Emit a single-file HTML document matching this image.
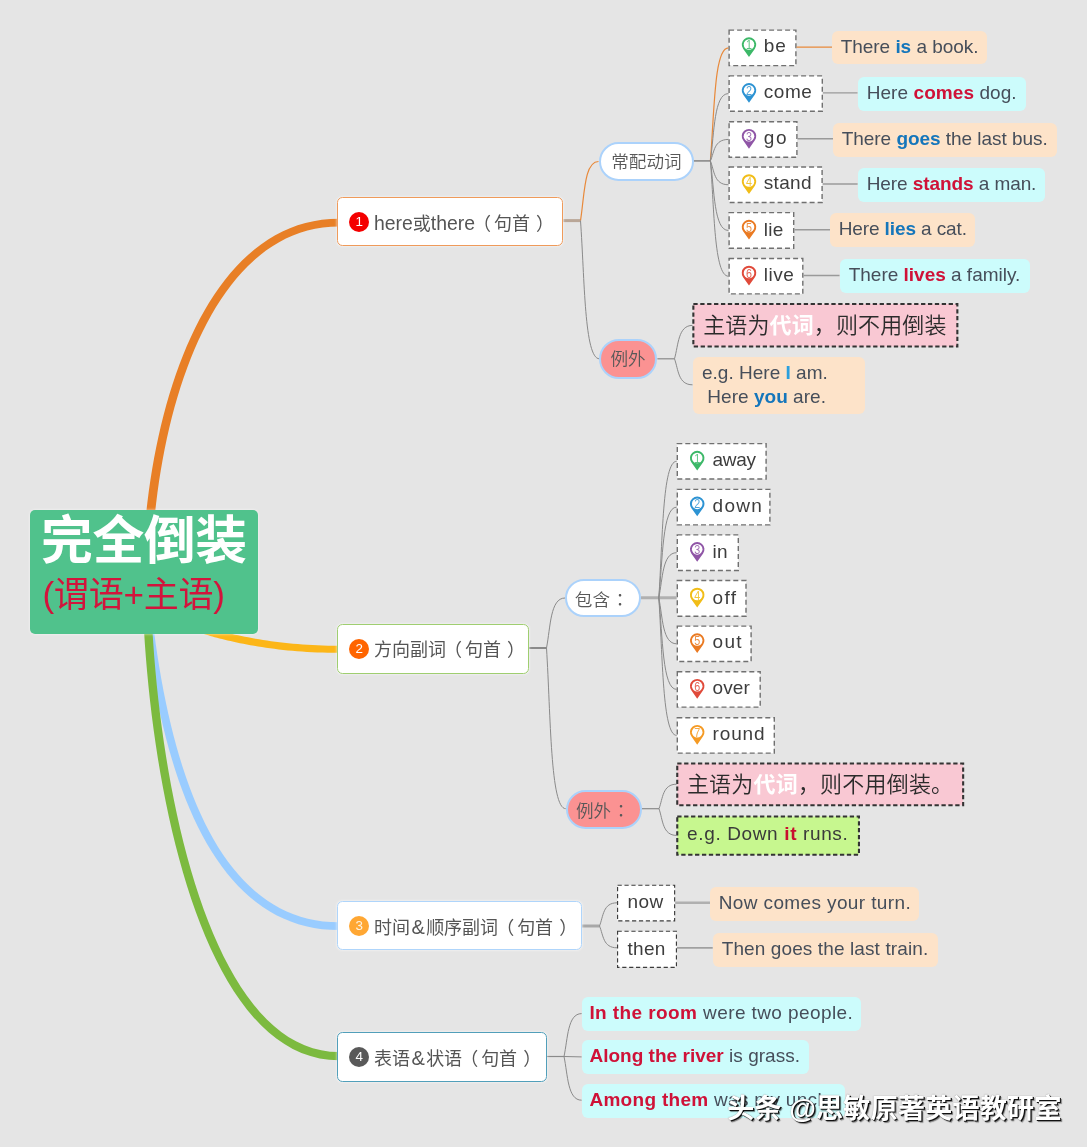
<!DOCTYPE html>
<html lang="zh"><head><meta charset="utf-8"><title>完全倒装</title>
<style>
html,body{margin:0;padding:0}
body{width:1087px;height:1147px;position:relative;overflow:hidden;background:#e5e5e5;font-family:"Liberation Sans","Noto Sans CJK SC",sans-serif;color:#454545}
svg{position:absolute;left:0;top:0}
div{box-sizing:border-box}
body>div{position:absolute;white-space:nowrap;will-change:transform}
.c{background:#50c28c;border-radius:5px;box-shadow:0 0 3px rgba(255,255,255,.7);line-height:normal!important}
.c1{position:absolute;left:11px;top:-5.8px;font-size:51.8px;font-weight:700;color:#fff;line-height:74px;letter-spacing:-0.4px}
.c2{position:absolute;left:12.4px;top:61.2px;font-size:35px;color:#d2143c;line-height:48px;letter-spacing:-0.2px}
.t{background:#fff;border:1.7px solid;border-radius:5.5px;box-shadow:0 0 3px rgba(255,255,255,.8);font-size:18px;color:#555;font-weight:400}
.t i{position:absolute;left:11.3px;top:13.7px;width:20px;height:20px;border-radius:50%;font-style:normal;font-size:13.4px;line-height:20.4px;text-align:center;font-weight:400}
.t .tt{position:absolute;left:36px;top:0.5px}
.t em{font-style:normal;display:inline-block;width:18px;margin:0 3px 0 -2px}
.t em+em{margin:0 0 0 6px}
.t u{text-decoration:none;font-size:19.4px;font-weight:400}
.t u.a{margin:0 1.2px 0 1.6px;font-size:20px}
.p{border:2px solid #abd2fb;border-radius:20px;text-align:center;font-size:17.6px;font-weight:350;color:#585858}
.p{line-height:normal!important}
.p span{position:absolute;left:0;right:0;top:4.6px;line-height:26px}
.p s{text-decoration:none;font-family:"Noto Sans CJK JP",sans-serif;margin-left:1.2px}
.w{font-size:19px;color:#3d3d3d}
.s{border-radius:6px;font-size:19px;padding-left:8.7px;color:#464e5a}
.s span{position:relative;top:-1.4px}
.b{color:#1576bb}.r{color:#cf1238}
.k{font-size:22px;color:#2b2b2b;font-weight:350}
.k b{color:#fff;font-weight:700}
.e{border-radius:6px;font-size:19px;padding:3.6px 0 0 9px;line-height:24.5px!important;color:#464e5a}
.g{font-size:19px;color:#3a3a3a}
.pn{font-family:"Liberation Sans",sans-serif}
.wm{left:726.8px;top:1090px;font-size:27.3px;font-weight:700;color:#fff;line-height:38px;text-shadow:1.2px 1.2px 0 #111,2px 2px 1px rgba(0,0,0,.45),0 0 1px rgba(0,0,0,.5)}
</style></head>
<body>
<svg width="1087" height="1147" viewBox="0 0 1087 1147">
<path d="M154.88 514.45 L156.09 503.46 L157.46 492.49 L159 481.56 L160.71 470.69 L162.58 459.88 L164.62 449.16 L166.84 438.53 L169.22 428.01 L171.77 417.61 L174.5 407.34 L177.4 397.22 L180.47 387.26 L183.71 377.48 L187.13 367.88 L190.73 358.49 L194.5 349.31 L198.45 340.35 L202.58 331.64 L206.88 323.18 L211.36 314.99 L216.02 307.08 L220.86 299.46 L225.87 292.15 L231.06 285.16 L236.44 278.5 L241.99 272.18 L247.72 266.22 L253.63 260.63 L259.72 255.42 L265.98 250.61 L272.43 246.19 L279.07 242.19 L285.88 238.61 L292.88 235.47 L300.08 232.78 L307.46 230.55 L315.04 228.79 L322.82 227.51 L330.81 226.72 L339 226.45 L339 218.75 L330.31 219.01 L321.83 219.82 L313.54 221.15 L305.46 223 L297.58 225.35 L289.91 228.19 L282.44 231.51 L275.19 235.28 L268.14 239.5 L261.31 244.14 L254.68 249.2 L248.26 254.66 L242.05 260.5 L236.04 266.7 L230.24 273.27 L224.63 280.17 L219.23 287.4 L214.02 294.94 L209.01 302.78 L204.19 310.91 L199.56 319.31 L195.13 327.97 L190.88 336.88 L186.81 346.02 L182.94 355.38 L179.24 364.96 L175.73 374.72 L172.4 384.67 L169.25 394.79 L166.28 405.06 L163.49 415.48 L160.87 426.03 L158.43 436.69 L156.16 447.46 L154.06 458.32 L152.13 469.26 L150.38 480.27 L148.79 491.32 L147.37 502.42 L146.12 513.55Z" fill="#e87f26"/>
<path d="M198.92 632.59 L200.18 632.96 L201.56 633.38 L203.07 633.83 L204.7 634.31 L206.45 634.82 L208.33 635.37 L210.32 635.94 L212.44 636.53 L214.67 637.14 L217.02 637.77 L219.49 638.42 L222.07 639.08 L224.77 639.75 L227.58 640.43 L230.51 641.11 L233.55 641.8 L236.71 642.49 L239.97 643.18 L243.35 643.86 L246.84 644.54 L250.44 645.2 L254.15 645.86 L257.97 646.5 L261.89 647.12 L265.93 647.73 L270.07 648.31 L274.32 648.87 L278.67 649.41 L283.14 649.91 L287.7 650.39 L292.37 650.82 L297.14 651.23 L302.02 651.59 L307 651.92 L312.08 652.19 L317.27 652.43 L322.55 652.61 L327.93 652.75 L333.42 652.83 L339 652.85 L339 645.75 L333.49 645.72 L328.08 645.63 L322.77 645.49 L317.56 645.29 L312.45 645.05 L307.44 644.77 L302.53 644.44 L297.72 644.07 L293.02 643.66 L288.42 643.22 L283.92 642.74 L279.53 642.24 L275.24 641.7 L271.06 641.14 L266.98 640.56 L263.01 639.95 L259.15 639.33 L255.39 638.68 L251.75 638.03 L248.21 637.36 L244.78 636.69 L241.46 636.01 L238.25 635.32 L235.16 634.64 L232.17 633.95 L229.3 633.27 L226.54 632.59 L223.89 631.93 L221.35 631.27 L218.93 630.62 L216.63 629.99 L214.44 629.38 L212.36 628.79 L210.4 628.22 L208.56 627.68 L206.83 627.16 L205.22 626.67 L203.72 626.22 L202.34 625.79 L201.08 625.41Z" fill="#fcb618"/>
<path d="M145.83 630.51 L147.54 643.19 L149.37 655.71 L151.33 668.05 L153.43 680.21 L155.66 692.18 L158.02 703.95 L160.52 715.51 L163.17 726.87 L165.96 738 L168.9 748.9 L171.98 759.57 L175.22 769.99 L178.61 780.16 L182.16 790.07 L185.87 799.72 L189.75 809.09 L193.79 818.18 L197.99 826.98 L202.37 835.48 L206.93 843.67 L211.66 851.56 L216.58 859.12 L221.67 866.35 L226.96 873.24 L232.44 879.79 L238.11 885.98 L243.98 891.81 L250.04 897.26 L256.32 902.33 L262.79 907.01 L269.47 911.29 L276.36 915.15 L283.46 918.59 L290.77 921.6 L298.28 924.17 L306.01 926.29 L313.95 927.95 L322.09 929.14 L330.44 929.86 L339 930.1 L339 922.3 L330.89 922.07 L322.99 921.38 L315.31 920.25 L307.85 918.69 L300.59 916.69 L293.53 914.27 L286.67 911.44 L279.99 908.2 L273.51 904.56 L267.21 900.52 L261.09 896.1 L255.15 891.29 L249.38 886.1 L243.79 880.53 L238.37 874.61 L233.11 868.32 L228.03 861.68 L223.11 854.7 L218.36 847.38 L213.77 839.73 L209.35 831.75 L205.08 823.46 L200.98 814.87 L197.03 805.97 L193.24 796.78 L189.6 787.31 L186.11 777.57 L182.78 767.56 L179.59 757.29 L176.55 746.76 L173.66 736 L170.91 725 L168.3 713.77 L165.82 702.32 L163.49 690.66 L161.28 678.8 L159.21 666.75 L157.27 654.51 L155.46 642.08 L153.77 629.49Z" fill="#99ccff"/>
<path d="M144.01 630.24 L144.87 643.91 L145.9 657.79 L147.1 671.86 L148.46 686.1 L150 700.46 L151.71 714.93 L153.6 729.47 L155.67 744.06 L157.93 758.66 L160.37 773.25 L163.01 787.79 L165.83 802.27 L168.86 816.64 L172.08 830.89 L175.51 844.97 L179.15 858.87 L182.99 872.55 L187.05 885.99 L191.33 899.15 L195.82 912.01 L200.54 924.54 L205.49 936.71 L210.67 948.49 L216.09 959.86 L221.75 970.78 L227.65 981.22 L233.8 991.16 L240.21 1000.56 L246.88 1009.41 L253.82 1017.66 L261.04 1025.29 L268.53 1032.26 L276.31 1038.55 L284.39 1044.11 L292.76 1048.92 L301.43 1052.93 L310.39 1056.11 L319.64 1058.42 L329.18 1059.83 L339 1060.3 L339 1052.1 L329.98 1051.66 L321.24 1050.37 L312.77 1048.25 L304.54 1045.32 L296.54 1041.62 L288.78 1037.16 L281.25 1031.96 L273.94 1026.05 L266.85 1019.44 L259.98 1012.18 L253.34 1004.27 L246.93 995.76 L240.74 986.66 L234.77 977.01 L229.03 966.84 L223.5 956.18 L218.21 945.05 L213.13 933.49 L208.27 921.52 L203.63 909.19 L199.2 896.5 L194.98 883.51 L190.98 870.23 L187.18 856.69 L183.59 842.94 L180.19 828.98 L177 814.86 L174.01 800.61 L171.21 786.25 L168.6 771.82 L166.18 757.33 L163.94 742.83 L161.89 728.35 L160.02 713.9 L158.32 699.53 L156.8 685.25 L155.45 671.11 L154.27 657.13 L153.25 643.33 L152.39 629.76Z" fill="#7cba3f"/>
<rect x="729.1" y="30.1" width="66.8" height="35.5" fill="#fff" stroke="#707070" stroke-width="1.4" stroke-dasharray="5 3"/>
<rect x="729.1" y="75.9" width="93.2" height="35.4" fill="#fff" stroke="#707070" stroke-width="1.4" stroke-dasharray="5 3"/>
<rect x="729.1" y="121.7" width="67.8" height="35.5" fill="#fff" stroke="#707070" stroke-width="1.4" stroke-dasharray="5 3"/>
<rect x="729.1" y="167" width="93" height="35.5" fill="#fff" stroke="#707070" stroke-width="1.4" stroke-dasharray="5 3"/>
<rect x="729.1" y="212.6" width="64.6" height="35.7" fill="#fff" stroke="#707070" stroke-width="1.4" stroke-dasharray="5 3"/>
<rect x="729.1" y="258.5" width="73.7" height="35.4" fill="#fff" stroke="#707070" stroke-width="1.4" stroke-dasharray="5 3"/>
<rect x="677.3" y="443.6" width="88.8" height="35.4" fill="#fff" stroke="#707070" stroke-width="1.4" stroke-dasharray="5 3"/>
<rect x="677.3" y="489.4" width="92.6" height="35.5" fill="#fff" stroke="#707070" stroke-width="1.4" stroke-dasharray="5 3"/>
<rect x="677.3" y="534.9" width="61" height="35.6" fill="#fff" stroke="#707070" stroke-width="1.4" stroke-dasharray="5 3"/>
<rect x="677.3" y="580.5" width="68.7" height="35.7" fill="#fff" stroke="#707070" stroke-width="1.4" stroke-dasharray="5 3"/>
<rect x="677.3" y="626.1" width="73.8" height="35.4" fill="#fff" stroke="#707070" stroke-width="1.4" stroke-dasharray="5 3"/>
<rect x="677.3" y="671.7" width="82.9" height="35.4" fill="#fff" stroke="#707070" stroke-width="1.4" stroke-dasharray="5 3"/>
<rect x="677.3" y="717.7" width="97" height="35.4" fill="#fff" stroke="#707070" stroke-width="1.4" stroke-dasharray="5 3"/>
<rect x="617.58" y="885.28" width="57.05" height="35.65" fill="#fff" stroke="#3c3c3c" stroke-width="1.15" stroke-dasharray="4.2 2.7"/>
<rect x="617.58" y="931.28" width="58.85" height="36.05" fill="#fff" stroke="#3c3c3c" stroke-width="1.15" stroke-dasharray="4.2 2.7"/>
<rect x="693.35" y="304.05" width="264" height="42.5" fill="#f9c8d3" stroke="#333" stroke-width="2.1" stroke-dasharray="4.3 2.6"/>
<rect x="677.25" y="763.55" width="285.9" height="41.7" fill="#f9c8d3" stroke="#333" stroke-width="2.1" stroke-dasharray="4.3 2.6"/>
<rect x="677.25" y="816.55" width="181.7" height="38.2" fill="#c7f78f" stroke="#333" stroke-width="2.1" stroke-dasharray="4.3 2.6"/>
<path d="M563.4 220.6 L580.5 220.6" stroke="#b9a697" stroke-width="3" fill="none"/>
<path d="M580.5 220.6 C584.46 195.78 584.1 161.5 598.5 161.5" stroke="#e8893a" stroke-width="1.2" fill="none"/>
<path d="M580.5 220.6 C584.66 278.64 584.28 358.8 599.4 358.8" stroke="#8a8a8a" stroke-width="1" fill="none"/>
<path d="M693.3 160.9 L710.4 160.9" stroke="#8a8a8a" stroke-width="1.6" fill="none"/>
<path d="M710.4 160.9 C714.36 113.42 714 47.85 728.4 47.85" stroke="#e8893a" stroke-width="1.2" fill="none"/>
<path d="M710.4 160.9 C714.36 132.63 714 93.6 728.4 93.6" stroke="#8a8a8a" stroke-width="1" fill="none"/>
<path d="M710.4 160.9 C714.36 151.89 714 139.45 728.4 139.45" stroke="#8a8a8a" stroke-width="1" fill="none"/>
<path d="M710.4 160.9 C714.36 170.92 714 184.75 728.4 184.75" stroke="#8a8a8a" stroke-width="1" fill="none"/>
<path d="M710.4 160.9 C714.36 190.11 714 230.45 728.4 230.45" stroke="#8a8a8a" stroke-width="1" fill="none"/>
<path d="M710.4 160.9 C714.36 209.33 714 276.2 728.4 276.2" stroke="#8a8a8a" stroke-width="1" fill="none"/>
<path d="M796.6 47.15 L832 47.15" stroke="#e8893a" stroke-width="1.4" fill="none"/>
<path d="M823 92.9 L857.5 92.9" stroke="#9a9a9a" stroke-width="1.4" fill="none"/>
<path d="M797.6 138.75 L833.2 138.75" stroke="#9a9a9a" stroke-width="1.4" fill="none"/>
<path d="M822.8 184.05 L857.6 184.05" stroke="#9a9a9a" stroke-width="1.4" fill="none"/>
<path d="M794.4 229.75 L830.1 229.75" stroke="#9a9a9a" stroke-width="1.4" fill="none"/>
<path d="M803.5 275.5 L839.5 275.5" stroke="#9a9a9a" stroke-width="1.4" fill="none"/>
<path d="M657.4 358.8 L674.5 358.8" stroke="#8a8a8a" stroke-width="1.2" fill="none"/>
<path d="M674.5 358.8 C678.46 344.77 678.1 325.4 692.5 325.4" stroke="#8a8a8a" stroke-width="1" fill="none"/>
<path d="M674.5 358.8 C678.46 369.72 678.1 384.8 692.5 384.8" stroke="#8a8a8a" stroke-width="1" fill="none"/>
<path d="M529.2 648 L546.5 648" stroke="#8a8a8a" stroke-width="2" fill="none"/>
<path d="M546.5 648 C550.57 627 550.2 598 565 598" stroke="#8a8a8a" stroke-width="1" fill="none"/>
<path d="M546.5 648 C550.72 715.49 550.34 808.7 565.7 808.7" stroke="#8a8a8a" stroke-width="1" fill="none"/>
<path d="M641 597.8 L676.6 597.8" stroke="#b0b0b0" stroke-width="3" fill="none"/>
<path d="M658.8 597.8 C662.72 540.47 662.36 461.3 676.6 461.3" stroke="#8a8a8a" stroke-width="1" fill="none"/>
<path d="M658.8 597.8 C662.72 559.73 662.36 507.15 676.6 507.15" stroke="#8a8a8a" stroke-width="1" fill="none"/>
<path d="M658.8 597.8 C662.72 578.86 662.36 552.7 676.6 552.7" stroke="#8a8a8a" stroke-width="1" fill="none"/>
<path d="M658.8 597.8 C662.72 617.12 662.36 643.8 676.6 643.8" stroke="#8a8a8a" stroke-width="1" fill="none"/>
<path d="M658.8 597.8 C662.72 636.27 662.36 689.4 676.6 689.4" stroke="#8a8a8a" stroke-width="1" fill="none"/>
<path d="M658.8 597.8 C662.72 655.59 662.36 735.4 676.6 735.4" stroke="#8a8a8a" stroke-width="1" fill="none"/>
<path d="M641.9 808.7 L659 808.7" stroke="#8a8a8a" stroke-width="1.2" fill="none"/>
<path d="M659 808.7 C662.87 798.41 662.52 784.2 676.6 784.2" stroke="#8a8a8a" stroke-width="1" fill="none"/>
<path d="M659 808.7 C662.87 819.91 662.52 835.4 676.6 835.4" stroke="#8a8a8a" stroke-width="1" fill="none"/>
<path d="M582.2 926 L599.5 926" stroke="#a8a8a8" stroke-width="3" fill="none"/>
<path d="M599.5 926 C603.35 916.26 603 902.8 617 902.8" stroke="#8a8a8a" stroke-width="1" fill="none"/>
<path d="M599.5 926 C603.35 935.16 603 947.8 617 947.8" stroke="#8a8a8a" stroke-width="1" fill="none"/>
<path d="M675.2 902.7 L710.3 902.7" stroke="#b0b0b0" stroke-width="2.4" fill="none"/>
<path d="M677 947.8 L712.7 947.8" stroke="#a0a0a0" stroke-width="1.8" fill="none"/>
<path d="M546.7 1056.5 L564 1056.5" stroke="#8a8a8a" stroke-width="1.2" fill="none"/>
<path d="M564 1056.5 C567.87 1038.48 567.52 1013.6 581.6 1013.6" stroke="#8a8a8a" stroke-width="1" fill="none"/>
<path d="M564 1056.5 L581.6 1056.9" stroke="#8a8a8a" stroke-width="1" fill="none"/>
<path d="M564 1056.5 C567.87 1074.85 567.52 1100.2 581.6 1100.2" stroke="#8a8a8a" stroke-width="1" fill="none"/>
</svg>
<div class="c" style="left:30px;top:510px;width:228px;height:123.6px;line-height:123.6px;"><div class="c1">完全倒装</div><div class="c2">(谓语+主语)</div></div>
<div class="t" style="left:337.1px;top:197.2px;width:226.3px;height:48.8px;line-height:48.8px;border-color:#ef9a5a;"><i style="background:#f40000;color:#fff">1</i><span class="tt"><u>here</u>或<u>there</u><em>（</em>句首<em>）</em></span></div>
<div class="t" style="left:337.1px;top:624.3px;width:192.1px;height:49.6px;line-height:49.6px;border-color:#9fce70;"><i style="background:#ff6500;color:#fff">2</i><span class="tt">方向副词<em>（</em>句首<em>）</em></span></div>
<div class="t" style="left:337.1px;top:901.4px;width:245.1px;height:49.2px;line-height:49.2px;border-color:#afd5fb;"><i style="background:#ffa733;color:#fff3e0">3</i><span class="tt">时间<u class="a">&amp;</u>顺序副词<em>（</em>句首<em>）</em></span></div>
<div class="t" style="left:337.1px;top:1031.8px;width:209.6px;height:49.8px;line-height:49.8px;border-color:#519fba;"><i style="background:#595959;color:#fff">4</i><span class="tt">表语<u class="a">&amp;</u>状语<em>（</em>句首<em>）</em></span></div>
<div class="p" style="left:598.5px;top:142.4px;width:94.8px;height:38.7px;line-height:38.7px;background:#fff;"><span>常配动词</span></div>
<div class="p" style="left:599.4px;top:339px;width:58px;height:39.5px;line-height:39.5px;background:#fb9292;"><span>例外</span></div>
<div class="p" style="left:565px;top:579px;width:76px;height:38.1px;line-height:38.1px;background:#fff;"><span style="left:-2.4px">包含<s lang="ja">：</s></span></div>
<div class="p" style="left:565.7px;top:789.5px;width:76.2px;height:38.5px;line-height:38.5px;background:#fb9292;"><span style="left:-2.4px">例外<s lang="ja">：</s></span></div>
<div class="w" style="left:728.4px;top:28.3px;width:68.2px;height:36.9px;line-height:36.9px;padding-left:35.8px;letter-spacing:0.8px;">be</div>
<div class="w" style="left:728.4px;top:74.1px;width:94.6px;height:36.8px;line-height:36.8px;padding-left:35.8px;letter-spacing:0.53px;">come</div>
<div class="w" style="left:728.4px;top:119.9px;width:69.2px;height:36.9px;line-height:36.9px;padding-left:35.8px;letter-spacing:1.6px;">go</div>
<div class="w" style="left:728.4px;top:165.2px;width:94.4px;height:36.9px;line-height:36.9px;padding-left:35.8px;letter-spacing:0.3px;">stand</div>
<div class="w" style="left:728.4px;top:210.8px;width:66px;height:37.1px;line-height:37.1px;padding-left:35.8px;letter-spacing:0.3px;">lie</div>
<div class="w" style="left:728.4px;top:256.7px;width:75.1px;height:36.8px;line-height:36.8px;padding-left:35.8px;letter-spacing:0.47px;">live</div>
<div class="w" style="left:676.6px;top:441.8px;width:90.2px;height:36.8px;line-height:36.8px;padding-left:35.6px;letter-spacing:-0.3px;">away</div>
<div class="w" style="left:676.6px;top:487.6px;width:94px;height:36.9px;line-height:36.9px;padding-left:35.6px;letter-spacing:1.26px;">down</div>
<div class="w" style="left:676.6px;top:533.1px;width:62.4px;height:37px;line-height:37px;padding-left:35.6px;letter-spacing:0.2px;">in</div>
<div class="w" style="left:676.6px;top:578.7px;width:70.1px;height:37.1px;line-height:37.1px;padding-left:35.6px;letter-spacing:1.3px;">off</div>
<div class="w" style="left:676.6px;top:624.3px;width:75.2px;height:36.8px;line-height:36.8px;padding-left:35.6px;letter-spacing:1.3px;">out</div>
<div class="w" style="left:676.6px;top:669.9px;width:84.3px;height:36.8px;line-height:36.8px;padding-left:35.6px;letter-spacing:0.07px;">over</div>
<div class="w" style="left:676.6px;top:715.9px;width:98.4px;height:36.8px;line-height:36.8px;padding-left:35.6px;letter-spacing:0.84px;">round</div>
<div class="w" style="left:617px;top:883.6px;width:58.2px;height:36.8px;line-height:36.8px;padding-left:10.4px;letter-spacing:0.5px;">now</div>
<div class="w" style="left:617px;top:929.6px;width:60px;height:37.2px;line-height:37.2px;padding-left:10.4px;letter-spacing:0.33px;">then</div>
<div class="s" style="left:832px;top:31.3px;width:154.5px;height:33.3px;line-height:33.3px;background:#fde3c9;letter-spacing:-0.04px;"><span>There <b class="b">is</b> a book.</span></div>
<div class="s" style="left:857.5px;top:76.8px;width:167.5px;height:33.6px;line-height:33.6px;background:#ccfcfc;letter-spacing:0.07px;"><span>Here <b class="r">comes</b> dog.</span></div>
<div class="s" style="left:833.2px;top:122.6px;width:223.7px;height:33.6px;line-height:33.6px;background:#fde3c9;letter-spacing:-0.04px;"><span>There <b class="b">goes</b> the last bus.</span></div>
<div class="s" style="left:857.6px;top:167.9px;width:187.1px;height:33.6px;line-height:33.6px;background:#ccfcfc;letter-spacing:-0.08px;"><span>Here <b class="r">stands</b> a man.</span></div>
<div class="s" style="left:830.1px;top:213.4px;width:144.5px;height:33.6px;line-height:33.6px;background:#fde3c9;letter-spacing:-0.11px;"><span>Here <b class="b">lies</b> a cat.</span></div>
<div class="s" style="left:839.5px;top:259.4px;width:189.5px;height:33.6px;line-height:33.6px;background:#ccfcfc;letter-spacing:-0.01px;"><span>There <b class="r">lives</b> a family.</span></div>
<div class="s" style="left:710.3px;top:886.5px;width:208.8px;height:33.8px;line-height:33.8px;background:#fde3c9;letter-spacing:0.38px;"><span>Now comes your turn.</span></div>
<div class="s" style="left:712.6px;top:932.5px;width:224.9px;height:33.5px;line-height:33.5px;background:#fde3c9;letter-spacing:0.11px;"><span>Then goes the last train.</span></div>
<div class="s" style="left:581.7px;top:996.8px;width:278.8px;height:33.9px;line-height:33.9px;background:#ccfcfc;letter-spacing:0.41px;padding-left:7.4px;"><span><b class="r">In the room</b> were two people.</span></div>
<div class="s" style="left:581.7px;top:1040.2px;width:226.7px;height:33.6px;line-height:33.6px;background:#ccfcfc;letter-spacing:0.02px;padding-left:7.4px;"><span><b class="r">Along the river</b> is grass.</span></div>
<div class="s" style="left:581.7px;top:1083.8px;width:262.7px;height:33.6px;line-height:33.6px;background:#ccfcfc;letter-spacing:0.3px;padding-left:7.4px;"><span><b class="r">Among them</b> was my uncle.</span></div>
<div class="k" style="left:692.3px;top:303.6px;width:266.1px;height:44.6px;line-height:44.6px;padding-left:11.2px;letter-spacing:0.12px;">主语为<b>代词</b>，则不用倒装</div>
<div class="e" style="left:693px;top:356.8px;width:171.8px;height:56.6px;line-height:56.6px;background:#fde3c9;"><div style="letter-spacing:0.01px;">e.g. Here <b style="color:#2b9fdd">I</b> am.</div><div style="letter-spacing:0.03px;">&nbsp;Here <b class="b">you</b> are.</div></div>
<div class="k" style="left:676.2px;top:763.1px;width:288px;height:43.8px;line-height:43.8px;padding-left:10.9px;letter-spacing:0.2px;">主语为<b>代词</b>，则不用倒装。</div>
<div class="g" style="left:676.2px;top:813.9px;width:183.8px;height:40.3px;line-height:40.3px;padding-left:11.1px;letter-spacing:0.63px;">e.g. Down <b style="color:#c8102e">it</b> runs.</div>
<svg width="1087" height="1147" viewBox="0 0 1087 1147" style="pointer-events:none">
<g transform="translate(749 44.55)"><path d="M0 12.5 L-5.9 4.2 A7.25 7.25 0 1 1 5.9 4.2 Z" fill="#3cb868"/><circle r="5.3" fill="#fff"/><text y="4.6" text-anchor="middle" font-size="12.8" fill="#3cb868" fill-opacity=".85" transform="scale(.84 1)" class="pn">1</text></g>
<g transform="translate(749 90.35)"><path d="M0 12.5 L-5.9 4.2 A7.25 7.25 0 1 1 5.9 4.2 Z" fill="#2d93d3"/><circle r="5.3" fill="#fff"/><text y="4.6" text-anchor="middle" font-size="12.8" fill="#2d93d3" fill-opacity=".85" transform="scale(.84 1)" class="pn">2</text></g>
<g transform="translate(749 136.15)"><path d="M0 12.5 L-5.9 4.2 A7.25 7.25 0 1 1 5.9 4.2 Z" fill="#8f55a6"/><circle r="5.3" fill="#fff"/><text y="4.6" text-anchor="middle" font-size="12.8" fill="#8f55a6" fill-opacity=".85" transform="scale(.84 1)" class="pn">3</text></g>
<g transform="translate(749 181.45)"><path d="M0 12.5 L-5.9 4.2 A7.25 7.25 0 1 1 5.9 4.2 Z" fill="#f1bd18"/><circle r="5.3" fill="#fff"/><text y="4.6" text-anchor="middle" font-size="12.8" fill="#f1bd18" fill-opacity=".85" transform="scale(.84 1)" class="pn">4</text></g>
<g transform="translate(749 227.05)"><path d="M0 12.5 L-5.9 4.2 A7.25 7.25 0 1 1 5.9 4.2 Z" fill="#ea7a22"/><circle r="5.3" fill="#fff"/><text y="4.6" text-anchor="middle" font-size="12.8" fill="#ea7a22" fill-opacity=".85" transform="scale(.84 1)" class="pn">5</text></g>
<g transform="translate(749 272.95)"><path d="M0 12.5 L-5.9 4.2 A7.25 7.25 0 1 1 5.9 4.2 Z" fill="#e04a3a"/><circle r="5.3" fill="#fff"/><text y="4.6" text-anchor="middle" font-size="12.8" fill="#e04a3a" fill-opacity=".85" transform="scale(.84 1)" class="pn">6</text></g>
<g transform="translate(697.2 458.05)"><path d="M0 12.5 L-5.9 4.2 A7.25 7.25 0 1 1 5.9 4.2 Z" fill="#3cb868"/><circle r="5.3" fill="#fff"/><text y="4.6" text-anchor="middle" font-size="12.8" fill="#3cb868" fill-opacity=".85" transform="scale(.84 1)" class="pn">1</text></g>
<g transform="translate(697.2 503.85)"><path d="M0 12.5 L-5.9 4.2 A7.25 7.25 0 1 1 5.9 4.2 Z" fill="#2d93d3"/><circle r="5.3" fill="#fff"/><text y="4.6" text-anchor="middle" font-size="12.8" fill="#2d93d3" fill-opacity=".85" transform="scale(.84 1)" class="pn">2</text></g>
<g transform="translate(697.2 549.35)"><path d="M0 12.5 L-5.9 4.2 A7.25 7.25 0 1 1 5.9 4.2 Z" fill="#8f55a6"/><circle r="5.3" fill="#fff"/><text y="4.6" text-anchor="middle" font-size="12.8" fill="#8f55a6" fill-opacity=".85" transform="scale(.84 1)" class="pn">3</text></g>
<g transform="translate(697.2 594.95)"><path d="M0 12.5 L-5.9 4.2 A7.25 7.25 0 1 1 5.9 4.2 Z" fill="#f1bd18"/><circle r="5.3" fill="#fff"/><text y="4.6" text-anchor="middle" font-size="12.8" fill="#f1bd18" fill-opacity=".85" transform="scale(.84 1)" class="pn">4</text></g>
<g transform="translate(697.2 640.55)"><path d="M0 12.5 L-5.9 4.2 A7.25 7.25 0 1 1 5.9 4.2 Z" fill="#ea7a22"/><circle r="5.3" fill="#fff"/><text y="4.6" text-anchor="middle" font-size="12.8" fill="#ea7a22" fill-opacity=".85" transform="scale(.84 1)" class="pn">5</text></g>
<g transform="translate(697.2 686.15)"><path d="M0 12.5 L-5.9 4.2 A7.25 7.25 0 1 1 5.9 4.2 Z" fill="#e04a3a"/><circle r="5.3" fill="#fff"/><text y="4.6" text-anchor="middle" font-size="12.8" fill="#e04a3a" fill-opacity=".85" transform="scale(.84 1)" class="pn">6</text></g>
<g transform="translate(697.2 732.15)"><path d="M0 12.5 L-5.9 4.2 A7.25 7.25 0 1 1 5.9 4.2 Z" fill="#f59a23"/><circle r="5.3" fill="#fff"/><text y="4.6" text-anchor="middle" font-size="12.8" fill="#f59a23" fill-opacity=".85" transform="scale(.84 1)" class="pn">7</text></g>
</svg>
<div class="wm">头条 @思敏原著英语教研室</div>
</body></html>
